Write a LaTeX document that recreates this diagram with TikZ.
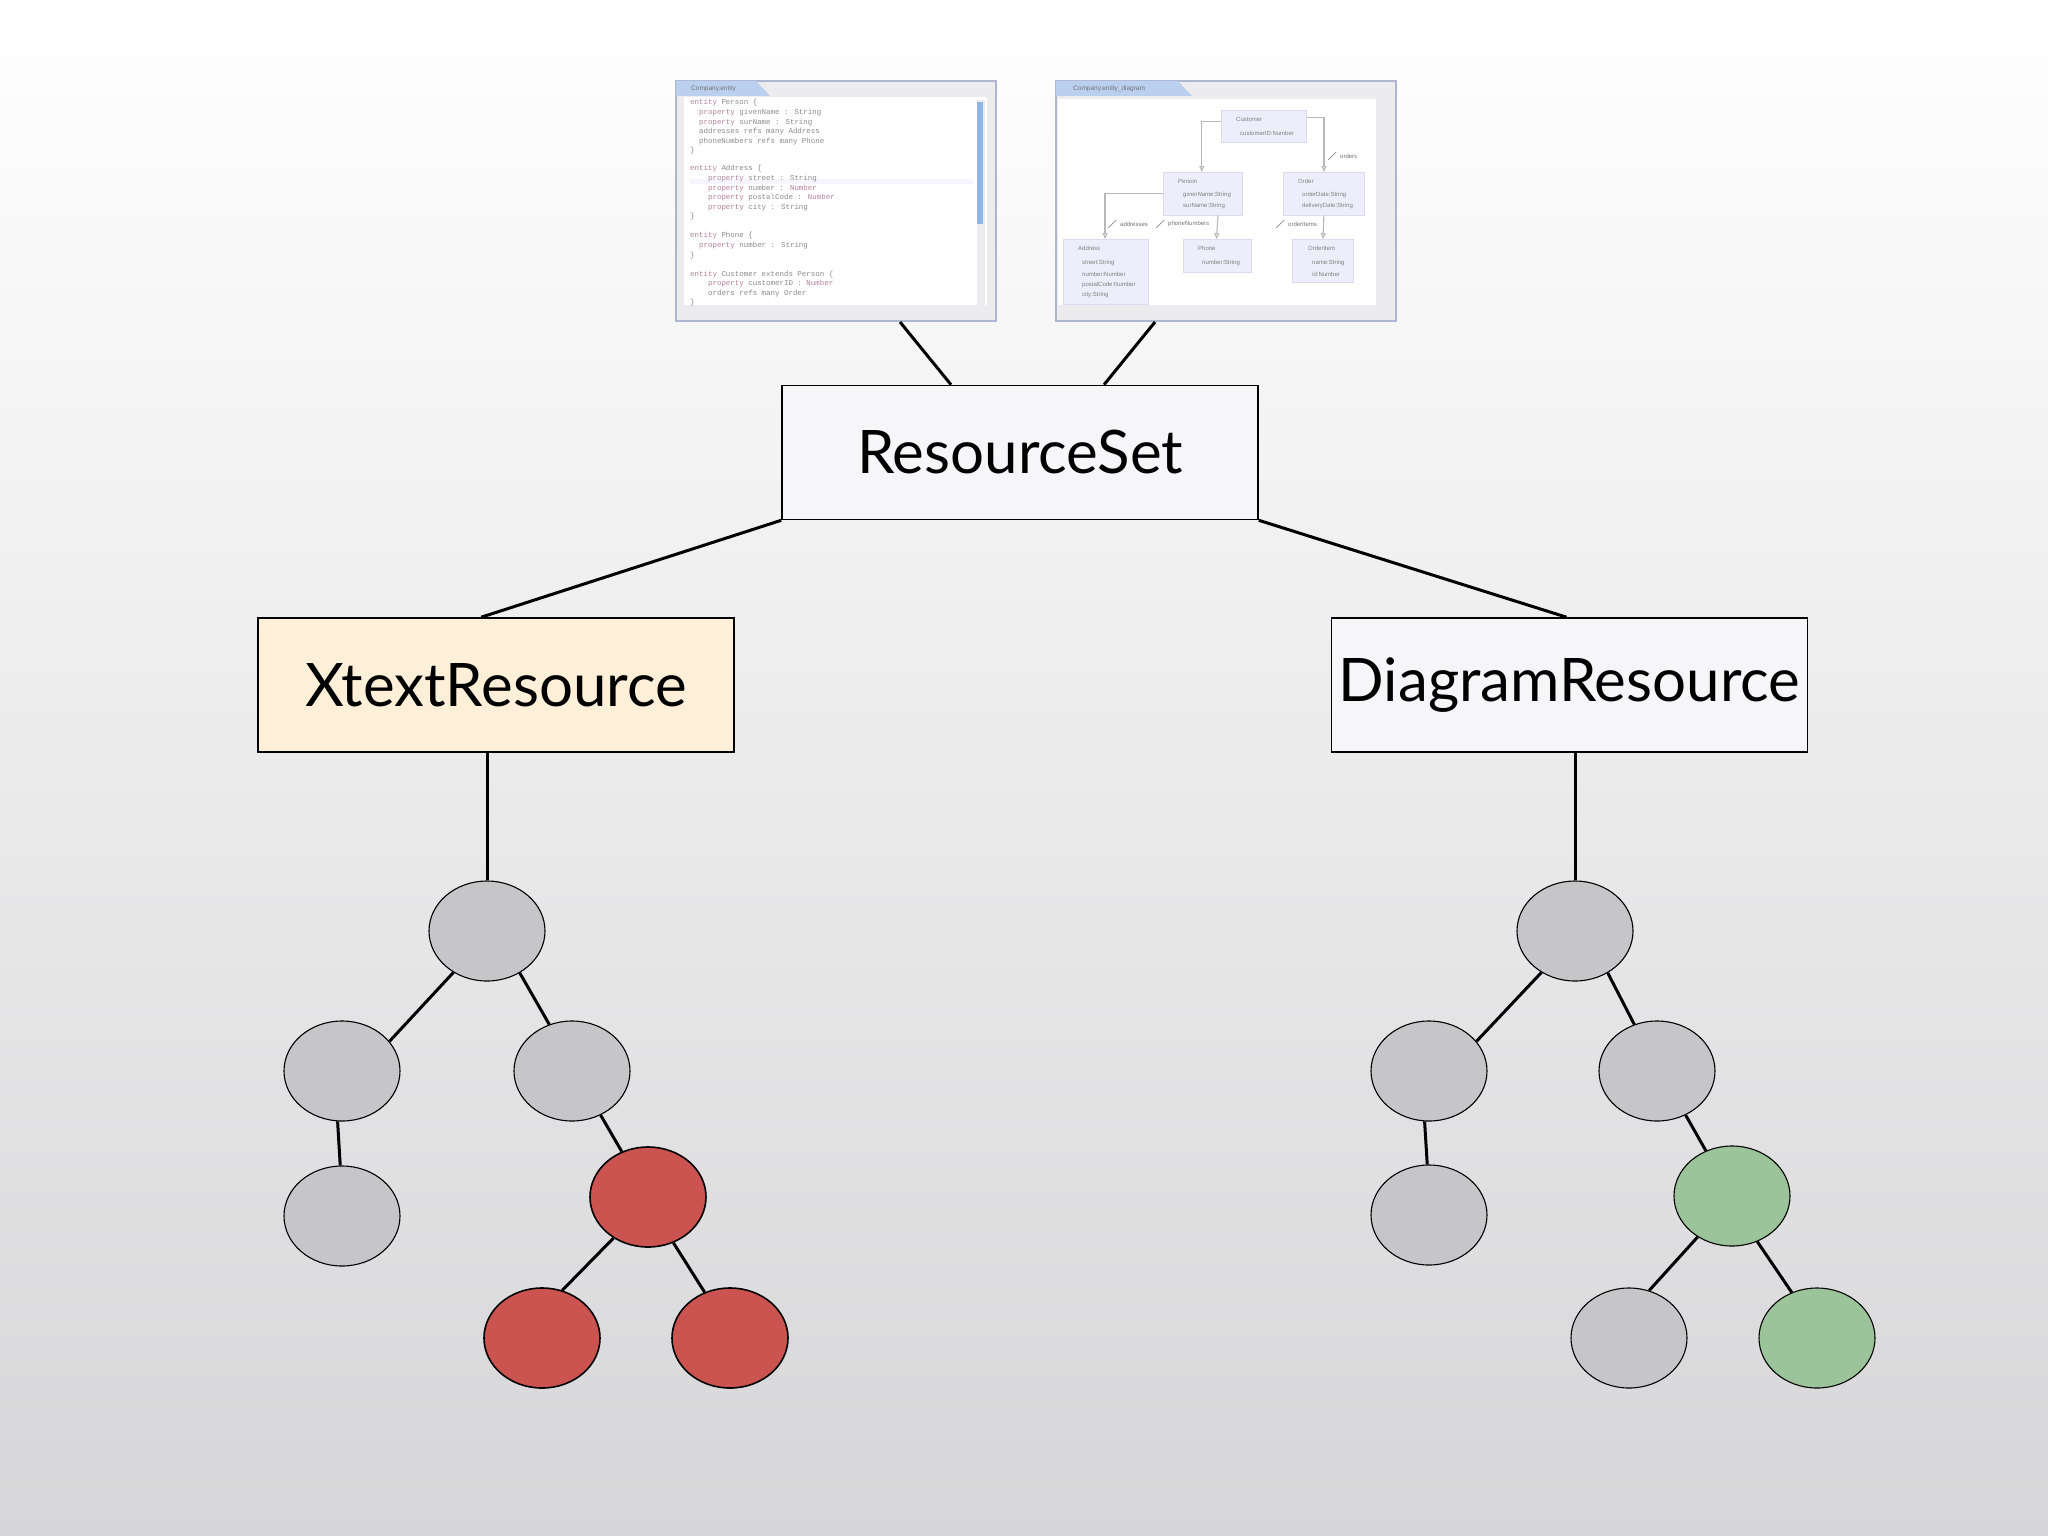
\documentclass[tikz,border=0pt]{standalone}
\usepackage{fontspec}
\usetikzlibrary{shapes.geometric,arrows.meta}
\setmainfont{Lato}
\newfontfamily\codefont{Liberation Mono}
\newfontfamily\uifont{Liberation Sans}
\definecolor{boxfill}{HTML}{F6F6F8}
\definecolor{xtextfill}{HTML}{FEF0D8}
\definecolor{greyball}{HTML}{C6C5C7}
\definecolor{redball}{HTML}{CB5450}
\definecolor{greenball}{HTML}{9CC49A}
\definecolor{winframe}{HTML}{AEB6D2}
\definecolor{winbar}{HTML}{ECECEE}
\definecolor{wintab}{HTML}{BBD0EE}
\definecolor{codegrey}{HTML}{8A8A90}
\definecolor{codekey}{HTML}{B4809C}
\definecolor{classfill}{HTML}{EDEDFB}
\definecolor{classedge}{HTML}{DADAF0}
\definecolor{linkgrey}{HTML}{B8B8B8}
\definecolor{scrollblue}{HTML}{8FB4E6}
\definecolor{bgbottom}{HTML}{D6D6D8}
\definecolor{bgmid}{HTML}{EBEBEC}
\tikzset{
  x=1pt,y=-1pt,
  bigbox/.style={draw=black,line width=1.6pt,minimum width=476pt,minimum height=134pt,inner sep=0pt,font=\fontsize{60}{60}\selectfont,text=black},
  ball/.style={ellipse,draw=black,line width=1.1pt,minimum width=116pt,minimum height=100pt,inner sep=0pt},
  link/.style={draw=black,line width=3pt},
  win/.style={draw=winframe,line width=2pt,fill=winbar,anchor=north west,inner sep=0pt},
  pane/.style={fill=white,anchor=north west,inner sep=0pt},
  tab/.style={anchor=north west,inner sep=1pt,font=\uifont\fontsize{6.5}{7}\selectfont,text=black!55},
  code/.style={anchor=west,inner sep=0pt,font=\codefont\fontsize{7.45}{8}\selectfont,text=codegrey},
  classbox/.style={draw=classedge,fill=classfill,line width=.8pt,anchor=north west,inner sep=0pt},
  ctext/.style={anchor=west,inner sep=0pt,font=\uifont\fontsize{6}{7}\selectfont,text=black!50},
  uml/.style={draw=linkgrey,line width=1.1pt},
  umlarrow/.style={uml,-{Triangle[open,length=6pt,width=5pt]}},
}
\newcommand{\kw}[1]{\textcolor{codekey}{#1}}
\begin{document}
\begin{tikzpicture}
\useasboundingbox (0,0) rectangle (2048,1536);
\shade[top color=white,bottom color=bgbottom,middle color=bgmid] (0,0) rectangle (2048,1536);

% editor window
\node[win,minimum width=320pt,minimum height=240pt] (w1) at (675,80) {};
\node[pane,minimum width=303pt,minimum height=208pt] (p1) at (684,97) {};
\fill[wintab] ([xshift=1pt,yshift=-1pt]w1.north west) -- ++(80,0) -- ++(14,15) -- ++(-94,0) -- cycle;
\node[tab] (t1) at (690,85) {Company.entity};
\fill[blue!4] (690,179) rectangle (973,184);
\fill[winbar] (977,100) rectangle (985,306);
\fill[scrollblue] (977,102) rectangle (983,224);
\foreach \yy/\tx in {
 103/{\kw{entity} Person \{},
 112.6/{\ \ \kw{property} givenName : String},
 122.2/{\ \ \kw{property} surName : String},
 131.8/{\ \ addresses refs many Address},
 141.4/{\ \ phoneNumbers refs many Phone},
 151/{\}},
 169/{\kw{entity} Address \{},
 179/{\ \ \ \ \kw{property} street : String},
 188.4/{\ \ \ \ \kw{property} number : \kw{Number}},
 198/{\ \ \ \ \kw{property} postalCode : \kw{Number}},
 207.6/{\ \ \ \ \kw{property} city : String},
 217/{\}},
 236/{\kw{entity} Phone \{},
 245.6/{\ \ \kw{property} number : String},
 255.2/{\}},
 274.4/{\kw{entity} Customer extends Person \{},
 284/{\ \ \ \ \kw{property} customerID : \kw{Number}},
 293.4/{\ \ \ \ orders refs many Order},
 303/{\}}}
{ \node[code] at (690,\yy) {\tx}; }

% diagram window
\node[win,minimum width=340pt,minimum height=240pt] (w2) at (1055,80) {};
\node[pane,minimum width=318pt,minimum height=206pt] (p2) at (1058,99) {};
\fill[wintab] ([xshift=1pt,yshift=-1pt]w2.north west) -- ++(122,0) -- ++(14,15) -- ++(-136,0) -- cycle;
\node[tab] (t2) at (1072,85) {Company.entity\_diagram};

\node[classbox,minimum width=85pt,minimum height=32pt] (customer) at (1221,110) {};
\node[classbox,minimum width=79pt,minimum height=43pt] (person) at (1163,172) {};
\node[classbox,minimum width=81pt,minimum height=43pt] (order) at (1283,172) {};
\node[classbox,minimum width=85pt,minimum height=65pt] (address) at (1063,239) {};
\node[classbox,minimum width=68pt,minimum height=33pt] (phone) at (1183,239) {};
\node[classbox,minimum width=61pt,minimum height=43pt] (orderitem) at (1292,239) {};

\draw[umlarrow] ([yshift=5pt]customer.west) -| ([xshift=-41pt]person.north east);
\draw[umlarrow] ([yshift=9pt]customer.east) -| ([xshift=41pt]order.north west);
\draw[umlarrow] ([yshift=0pt]person.west) -| ([xshift=42pt]address.north west);
\draw[umlarrow] ([xshift=55pt]person.south west) -- ([xshift=-1pt]phone.north);
\draw[umlarrow] (order.south) -- (orderitem.north);

\foreach \xx/\yy/\tx in {
 1236/119/Customer, 1240/133/customerID:Number,
 1178/181/Person, 1183/195/givenName:String, 1183/206/surName:String,
 1298/181/Order, 1302/195/orderDate:String, 1302/206/deliveryDate:String,
 1078/248/Address, 1082/263/street:String, 1082/274/number:Number,
 1082/285/postalCode:Number, 1082/295/city:String,
 1198/248/Phone, 1202/263/number:String,
 1308/248/OrderItem, 1312/263/name:String, 1312/274/id:Number}
{ \node[ctext] at (\xx,\yy) {\tx}; }

\foreach \xx/\yy/\tx in {1340/156/orders,1120/224/addresses,1168/224/phoneNumbers,1288/224/orderItems}
{ \node[ctext,text=black!55] at (\xx,\yy) {\tx};
  \draw[black!45,line width=.7pt] (\xx-12,\yy+4) -- (\xx-4,\yy-4); }

% big boxes
\node[bigbox,fill=boxfill] (rs) at (1020,452.5) {ResourceSet};
\node[bigbox,fill=xtextfill] (xr) at (496,685) {XtextResource};
\node[bigbox,fill=boxfill] (dr) at (1569.5,685) {DiagramResource};

\draw[link] ([xshift=225pt]w1.south west) -- ([xshift=-69pt]rs.north);
\draw[link] ([xshift=100pt]w2.south west) -- ([xshift=84pt]rs.north);
\draw[link] (rs.south west) -- ([xshift=224pt]xr.north west);
\draw[link] (rs.south east) -- ([xshift=-3pt]dr.north);

% left tree
\node[ball,fill=greyball] (a0) at (487,931) {};
\node[ball,fill=greyball] (a1) at (342,1071) {};
\node[ball,fill=greyball] (a2) at (572,1071) {};
\node[ball,fill=greyball] (a3) at (342,1216) {};
\node[ball,fill=redball,line width=1.6pt] (a4) at (648,1197) {};
\node[ball,fill=redball,line width=1.6pt] (a5) at (542,1338) {};
\node[ball,fill=redball,line width=1.6pt] (a6) at (730,1338) {};
\draw[link] (a0.north |- xr.south) -- (a0.north);
\draw[link] (a0.231) -- (a1.32);
\draw[link] (a0.-52) -- (a2.116);
\draw[link] (a1.265) -- (a3.92);
\draw[link] (a2.-57) -- (a4.120);
\draw[link] (a4.230) -- (a5.67);
\draw[link] (a4.-61) -- (a6.119);

% right tree
\node[ball,fill=greyball] (b0) at (1575,931) {};
\node[ball,fill=greyball] (b1) at (1429,1071) {};
\node[ball,fill=greyball] (b2) at (1657,1071) {};
\node[ball,fill=greyball] (b3) at (1429,1215) {};
\node[ball,fill=greenball] (b4) at (1732,1196) {};
\node[ball,fill=greyball] (b5) at (1629,1338) {};
\node[ball,fill=greenball] (b6) at (1817,1338) {};
\draw[link] (b0.north |- dr.south) -- (b0.north);
\draw[link] (b0.231) -- (b1.32);
\draw[link] (b0.-52) -- (b2.116);
\draw[link] (b1.265) -- (b3.92);
\draw[link] (b2.-57) -- (b4.120);
\draw[link] (b4.230) -- (b5.67);
\draw[link] (b4.-61) -- (b6.119);
\end{tikzpicture}
\end{document}
